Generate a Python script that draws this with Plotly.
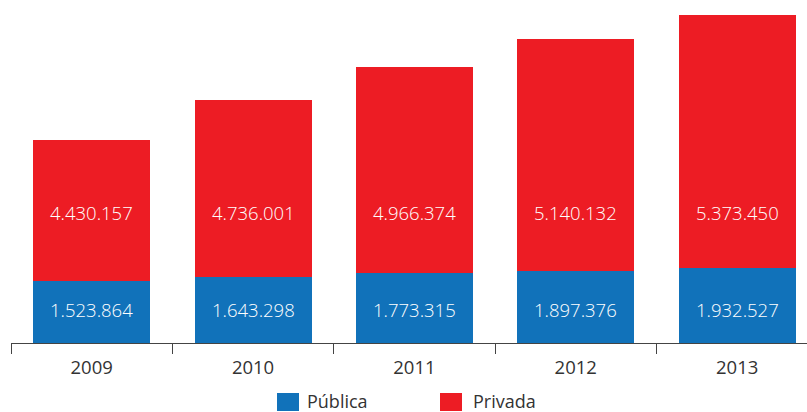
import plotly.graph_objects as go

# ---- data ----
years = ["2009", "2010", "2011", "2012", "2013"]
publica = [1523864, 1643298, 1773315, 1897376, 1932527]
privada = [4430157, 4736001, 4966374, 5140132, 5373450]
# The source graphic is not drawn to scale; segment heights as drawn (millions, picture scale)
publica_bar_height = [1.577, 1.671, 1.780, 1.830, 1.899]
privada_bar_height = [3.562, 4.481, 5.208, 5.866, 6.405]
series_names = ["Pública", "Privada"]

BLUE = "#1172BA"
RED = "#ED1C24"
FONT = "Open Sans, Noto Sans, DejaVu Sans, sans-serif"


def fmt(v):
    return f"{v:,}".replace(",", ".")


W, H = 807, 412
ML, MB = 11, 69
plot_h = H - MB
px_per_unit = 39.5

fig = go.Figure()
fig.add_bar(x=years, y=publica_bar_height, name=series_names[0],
            marker=dict(color=BLUE, line=dict(width=0)), width=0.725,
            hoverinfo="skip")
fig.add_bar(x=years, y=privada_bar_height, name=series_names[1],
            marker=dict(color=RED, line=dict(width=0)), width=0.725,
            hoverinfo="skip")

annotations = []
for i, pv in enumerate(publica):
    annotations.append(dict(x=i, xref="x", y=(plot_h - 309) / plot_h, yref="paper",
                            text=fmt(pv), showarrow=False, xanchor="center", yanchor="middle",
                            font=dict(family=FONT, size=18.5, color="white", weight=300)))
for i, pv in enumerate(privada):
    annotations.append(dict(x=i, xref="x", y=(plot_h - 212) / plot_h, yref="paper",
                            text=fmt(pv), showarrow=False, xanchor="center", yanchor="middle",
                            font=dict(family=FONT, size=18.5, color="white", weight=300)))

# custom legend
plot_w = W - ML
def px_x(p):
    return (p - ML) / plot_w
def px_y(p):
    return (plot_h - p) / plot_h

shapes = []
legend_items = [(series_names[0], BLUE, 277, 305), (series_names[1], RED, 440, 471)]
for name, col, sx, tx in legend_items:
    shapes.append(dict(type="rect", xref="paper", yref="paper",
                       x0=px_x(sx), x1=px_x(sx + 22), y0=px_y(411), y1=px_y(393),
                       fillcolor=col, line=dict(width=0)))
    annotations.append(dict(x=px_x(tx), xref="paper", y=px_y(401), yref="paper",
                            text=name, showarrow=False, xanchor="left", yanchor="middle",
                            font=dict(family=FONT, size=18, color="#333333", weight=400)))

fig.update_layout(
    barmode="stack",
    width=W, height=H,
    margin=dict(l=ML, r=0, t=0, b=MB, pad=0),
    paper_bgcolor="white", plot_bgcolor="white",
    showlegend=False,
    annotations=annotations,
    shapes=shapes,
    xaxis=dict(type="category", range=[-0.5, 4.433], showgrid=False, zeroline=False,
               showline=True, linecolor="#444444", linewidth=1,
               ticks="outside", tickson="boundaries", ticklen=10, tickwidth=1,
               tickcolor="#444444", ticklabelstandoff=8,
               tickfont=dict(family=FONT, size=18.5, color="#333333", weight=400)),
    yaxis=dict(range=[0, plot_h / px_per_unit], visible=False, showgrid=False,
               zeroline=False),
)

fig.write_html("out.html", config={"displayModeBar": False},
               post_script="document.body.style.margin='0';document.body.style.overflow='hidden';")
